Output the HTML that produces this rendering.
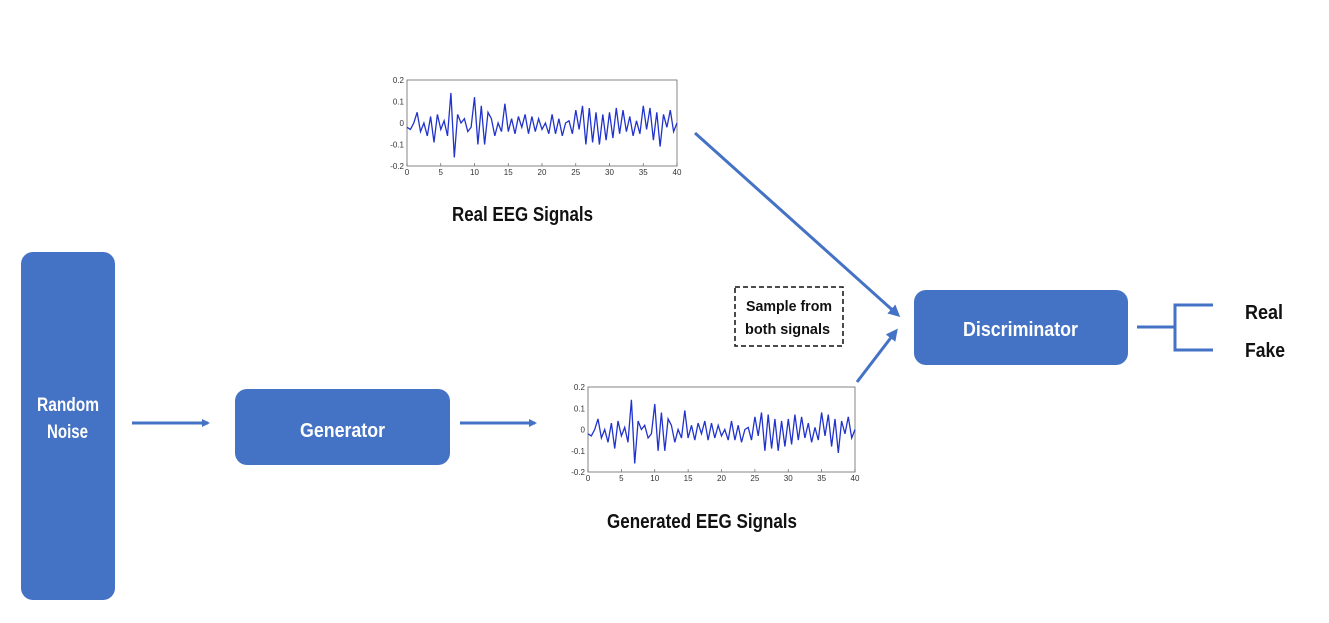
<!DOCTYPE html>
<html><head><meta charset="utf-8"><style>
body{margin:0;background:#fff;}
svg{display:block;}
text{font-family:"Liberation Sans Narrow","Liberation Sans",sans-serif;font-weight:bold;}
</style></head><body>
<svg id="d" width="1329" height="623" viewBox="0 0 1329 623">
<defs><marker id="ah" markerWidth="8" markerHeight="8" refX="6" refY="4" orient="auto" markerUnits="userSpaceOnUse"><path d="M0,0 L8,4 L0,8 Z" fill="#4472C4"/></marker>
<marker id="ah2" markerWidth="12" markerHeight="12" refX="9" refY="6" orient="auto" markerUnits="userSpaceOnUse"><path d="M0,0 L12,6 L0,12 Z" fill="#4472C4"/></marker></defs>
<rect x="21" y="252" width="94" height="348" rx="12" fill="#4472C4"/>
<text x="37" y="411" fill="#fff" font-size="19" textLength="62" lengthAdjust="spacingAndGlyphs">Random</text>
<text x="47" y="438" fill="#fff" font-size="19" textLength="41" lengthAdjust="spacingAndGlyphs">Noise</text>
<rect x="235" y="389" width="215" height="76" rx="12" fill="#4472C4"/>
<text x="300" y="437" fill="#fff" font-size="20" textLength="85" lengthAdjust="spacingAndGlyphs">Generator</text>
<rect x="914" y="290" width="214" height="75" rx="12" fill="#4472C4"/>
<text x="963" y="336" fill="#fff" font-size="20" textLength="115" lengthAdjust="spacingAndGlyphs">Discriminator</text>
<g stroke="#4472C4" stroke-width="3" fill="none">
<line x1="132" y1="423" x2="208" y2="423" marker-end="url(#ah)"/>
<line x1="460" y1="423" x2="535" y2="423" marker-end="url(#ah)"/>
<line x1="695" y1="133" x2="898" y2="315" marker-end="url(#ah2)"/>
<line x1="857" y1="382" x2="896" y2="331" marker-end="url(#ah2)"/>
<path d="M1137,327 H1175 M1213,305 H1175 V350 H1213"/>
</g>
<text x="1245" y="319" font-size="20" fill="#111" textLength="38" lengthAdjust="spacingAndGlyphs">Real</text>
<text x="1245" y="357" font-size="20" fill="#111" textLength="40" lengthAdjust="spacingAndGlyphs">Fake</text>
<rect x="735" y="287" width="108" height="59" fill="none" stroke="#111" stroke-width="1.5" stroke-dasharray="5,3"/>
<text x="746" y="311" font-size="15" fill="#111" textLength="86" lengthAdjust="spacingAndGlyphs">Sample from</text>
<text x="745" y="334" font-size="15" fill="#111" textLength="85" lengthAdjust="spacingAndGlyphs">both signals</text>
<text x="452" y="221" font-size="20" fill="#111" textLength="141" lengthAdjust="spacingAndGlyphs">Real EEG Signals</text>
<text x="607" y="528" font-size="20" fill="#111" textLength="190" lengthAdjust="spacingAndGlyphs">Generated EEG Signals</text>
<g id="p1"></g>
<g id="p2"></g>
</svg>
<script>
const times = [];
for (let i = 0; i <= 80; i++) times.push(i * 0.5);
const eegValues = [-0.02,-0.03,0.0,0.05,-0.04,0.0,-0.06,0.03,-0.09,0.04,-0.03,0.01,-0.06,0.14,-0.16,0.04,0.0,0.02,-0.04,-0.02,0.12,-0.1,0.08,-0.1,0.05,0.02,-0.06,0.0,-0.04,0.09,-0.04,0.02,-0.05,0.03,-0.02,0.04,-0.05,0.03,-0.04,0.02,-0.03,0.0,-0.05,0.04,-0.05,0.02,-0.06,0.0,0.01,-0.05,0.06,-0.03,0.08,-0.1,0.07,-0.09,0.05,-0.1,0.04,-0.08,0.05,-0.07,0.07,-0.05,0.06,-0.04,0.03,-0.06,0.01,-0.05,0.08,-0.03,0.07,-0.08,0.05,-0.11,0.04,-0.02,0.06,-0.04,0.0];
const xTicks = [0,5,10,15,20,25,30,35,40];
const yTicks = [0.2,0.1,0,-0.1,-0.2];
const NS = 'http://www.w3.org/2000/svg';
function mk(tag, attrs, parent){const e=document.createElementNS(NS,tag);for(const k in attrs)e.setAttribute(k,attrs[k]);parent.appendChild(e);return e;}
function plot(g, x0, x1, y0, y1){
  const sx = t => x0 + (t - 0) / 40 * (x1 - x0);
  const sy = v => y0 + (0.2 - v) / 0.4 * (y1 - y0);
  const r = mk('rect',{x:x0,y:y0,width:x1-x0,height:y1-y0,fill:'#fff',stroke:'#666','stroke-width':0.8},g);
  
  
  xTicks.forEach(t=>{
    const l=mk('line',{x1:sx(t),x2:sx(t),y1:y1,y2:y1-3,stroke:'#666','stroke-width':0.7},g);
    
    
    const tx=mk('text',{x:sx(t),y:y1+9,'font-size':8,'text-anchor':'middle',fill:'#333'},g);
    
    
    tx.style.fontFamily='Liberation Sans';tx.style.fontWeight='normal';
    tx.textContent=t;
  });
  yTicks.forEach(v=>{
    const tx=mk('text',{x:x0-3,y:sy(v)+3,'font-size':8,'text-anchor':'end',fill:'#333'},g);
    
    
    tx.style.fontFamily='Liberation Sans';tx.style.fontWeight='normal';
    tx.textContent=v;
  });
  const pts = times.map((t,i)=>sx(t).toFixed(1)+','+sy(eegValues[i]).toFixed(1)).join(' ');
  const pl=mk('polyline',{points:pts,fill:'none',stroke:'#2233cc','stroke-width':1.3},g);
  
  
}
plot(document.getElementById('p1'),407,677,80,166);
plot(document.getElementById('p2'),588,855,387,472);
</script>
</body></html>
